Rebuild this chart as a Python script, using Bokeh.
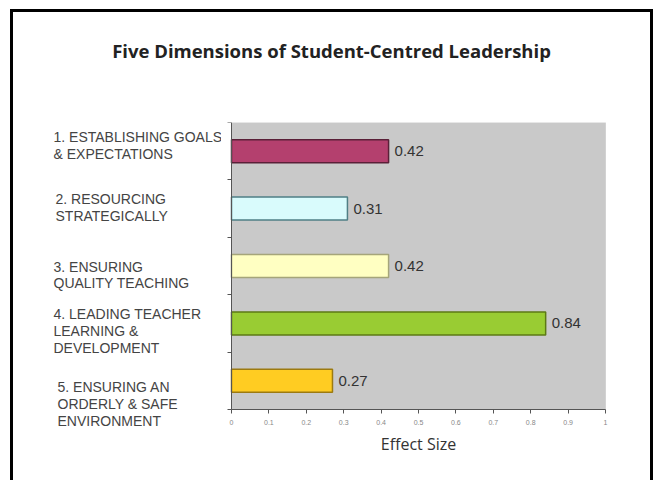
from bokeh.plotting import figure
from bokeh.layouts import column, row
from bokeh.models import (ColumnDataSource, Range1d, FixedTicker, CustomJSTickFormatter,
                          LabelSet, BoxAnnotation)
from bokeh.core.properties import value
from bokeh.embed import file_html
from bokeh.resources import INLINE

# ---- data ----
title_text = "Five Dimensions of Student-Centred Leadership"
x_title = "Effect Size"
categories = [
    "1. ESTABLISHING GOALS\n& EXPECTATIONS",
    "2. RESOURCING\nSTRATEGICALLY",
    "3. ENSURING\nQUALITY TEACHING",
    "4. LEADING TEACHER\nLEARNING &\nDEVELOPMENT",
    "5. ENSURING AN\nORDERLY & SAFE\nENVIRONMENT",
]
effect_sizes = [0.42, 0.31, 0.42, 0.84, 0.27]
value_labels = ["0.42", "0.31", "0.42", "0.84", "0.27"]
x_ticks = [0, 0.1, 0.2, 0.3, 0.4, 0.5, 0.6, 0.7, 0.8, 0.9, 1.0]

# ---- styles / layout ----
fill_colors = ["#B4406E", "#D9FBFC", "#FFFFC2", "#99CC33", "#FFCC22"]
line_colors = ["#5A2038", "#4F7F85", "#A5A57A", "#5C7A14", "#9C7A10"]
label_dy = [-6, -1, 9, 8, 23]      # vertical nudges of category labels (px, down)
label_dx = [40, 42, 40, 40, 44]    # left indent of category labels (px)

TOTAL_W, TOTAL_H = 637, 468
TITLE_H = 105
LEFT_W = 208
BAND_PX = 57.4                     # pixel height of one category band
UNIT_PX = 374                      # pixel width of one effect-size unit
LEFT_EXTRA_PX = 10                 # frame room left of x = 0 (first tick label)
RIGHT_EXTRA_PX = 20                # frame room right of x = 1 (last tick label)
TOP_PAD, BOTTOM_PAD = 5, 24
LEFT_PAD, RIGHT_PAD = 0, 25
PLOT_W = TOTAL_W - LEFT_W
PLOT_H = TOTAL_H - TITLE_H
FRAME_H = PLOT_H - TOP_PAD - BOTTOM_PAD

n = len(categories)
pos = list(range(1, n + 1))
src = ColumnDataSource(dict(
    pos=pos, val=effect_sizes, cat=categories, vlab=value_labels,
    fill=fill_colors, line=line_colors,
    cat_x=[0] * n, cat_xoff=label_dx, cat_yoff=label_dy,
))

x_lo, x_hi = x_ticks[0], x_ticks[-1]
y_range = Range1d(0.5 + FRAME_H / BAND_PX, 0.5)
x_range = Range1d(x_lo - LEFT_EXTRA_PX / UNIT_PX, x_hi + RIGHT_EXTRA_PX / UNIT_PX)

# ---- main chart ----
p = figure(width=PLOT_W, height=PLOT_H, output_backend="svg", toolbar_location=None,
           x_range=x_range, y_range=y_range, y_axis_location="right",
           min_border_left=LEFT_PAD, min_border_right=RIGHT_PAD,
           min_border_top=TOP_PAD, min_border_bottom=BOTTOM_PAD)
p.background_fill_color = "white"
p.border_fill_color = "white"
p.outline_line_color = None
p.xgrid.visible = False
p.ygrid.visible = False

p.add_layout(BoxAnnotation(left=x_lo, right=x_hi, bottom=n + 0.5,
                           fill_color="#C9C9C9", fill_alpha=1.0,
                           line_color="#A8A8A8", line_width=1, level="underlay"))

p.hbar(y="pos", right="val", left=0, height=0.4, source=src,
       fill_color="fill", line_color="line", line_width=1.5)

p.add_layout(LabelSet(x="val", y="pos", text="vlab", source=src, x_offset=6,
                      text_baseline="middle", text_font=value("Liberation Sans"),
                      text_font_size=value("15px"), text_color=value("#333333")))

# axis title, placed under the axis line
p.text(x=[(x_lo + x_hi) / 2], y=[n + 0.5], text=[x_title], y_offset=34,
       text_align="center", text_baseline="middle",
       text_font=value("Open Sans"), text_font_size=value("16px"),
       text_color="#333333")

xa = p.xaxis[0]
xa.fixed_location = n + 0.5
xa.bounds = (x_lo, x_hi)
xa.ticker = FixedTicker(ticks=x_ticks)
xa.formatter = CustomJSTickFormatter(code="return tick.toFixed(1).replace(/\\.0$/, '');")
xa.major_label_text_font_size = "7px"
xa.major_label_text_color = "#888888"
xa.major_label_standoff = 6
xa.major_tick_out = 4
xa.major_tick_in = 0
xa.minor_tick_out = 0
xa.minor_tick_in = 0
xa.axis_line_color = "#555555"
xa.major_tick_line_color = "#555555"

# category axis line at x = 0, ticks between the bands pointing left
ya = p.yaxis[0]
ya.fixed_location = x_lo
ya.bounds = (0.5, n + 0.5)
ya.ticker = FixedTicker(ticks=[k + 0.5 for k in range(n + 1)])
ya.formatter = CustomJSTickFormatter(code="return '';")
ya.major_tick_out = 0
ya.major_tick_in = 4
ya.minor_tick_out = 0
ya.minor_tick_in = 0
ya.axis_line_color = "#555555"
ya.major_tick_line_color = "#555555"

# ---- category label panel (same y scale, aligned frame) ----
lp = figure(width=LEFT_W, height=PLOT_H, output_backend="svg", toolbar_location=None,
            x_range=Range1d(0, LEFT_W), y_range=y_range,
            x_axis_type=None, y_axis_type=None,
            min_border_left=0, min_border_right=0,
            min_border_top=TOP_PAD, min_border_bottom=BOTTOM_PAD)
lp.outline_line_color = None
lp.background_fill_color = "white"
lp.border_fill_color = "white"
lp.grid.visible = False
lp.text(x="cat_x", y="pos", text="cat", source=src,
        x_offset="cat_xoff", y_offset="cat_yoff",
        text_align="left", text_baseline="middle",
        text_font=value("Liberation Sans"), text_font_size=value("14px"),
        text_color="#444444", text_line_height=1.06)

# ---- title panel ----
tp = figure(width=TOTAL_W, height=TITLE_H, output_backend="svg", toolbar_location=None,
            x_range=Range1d(0, TOTAL_W), y_range=Range1d(TITLE_H, 0),
            x_axis_type=None, y_axis_type=None,
            min_border=0)
tp.outline_line_color = None
tp.background_fill_color = "white"
tp.border_fill_color = "white"
tp.grid.visible = False
tp.text(x=[318], y=[38], text=[title_text],
        text_align="center", text_baseline="middle",
        text_font=value("Open Sans"), text_font_style="bold",
        text_font_size=value("18.5px"), text_color="#222222")

layout = column(tp, row(lp, p, spacing=0), spacing=0)
layout.styles = {"border-top": "3px solid black", "border-left": "3px solid black",
                 "border-right": "3px solid black", "margin-left": "10px", "margin-top": "9px"}

open("out.html", "w").write(file_html(layout, INLINE))
